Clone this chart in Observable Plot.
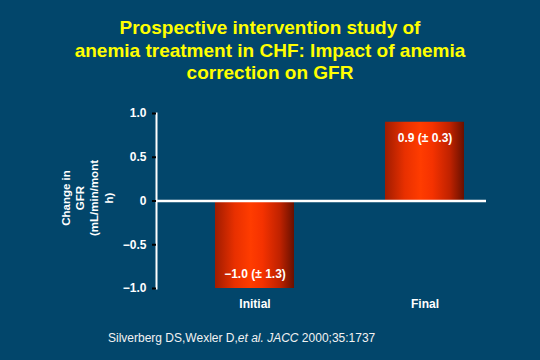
<!DOCTYPE html>
<html>
<head>
<meta charset="utf-8">
<script src="https://cdn.jsdelivr.net/npm/d3@7"></script>
<script src="https://cdn.jsdelivr.net/npm/@observablehq/plot@0.6"></script>
<style>
  html, body { margin: 0; padding: 0; }
  body { width: 540px; height: 360px; background: #02466b; overflow: hidden;
         font-family: "Liberation Sans", Arial, sans-serif; }
  #title { height: 90px; box-sizing: border-box; padding-top: 17px; text-align: center;
           color: #ffff00; font-weight: bold; font-size: 19px; line-height: 22.5px; }
  #chart svg { display: block; }
  #caption { padding-left: 108px; padding-top: 10px; color: #f2f2f2; font-size: 12px; line-height: 16px; }
</style>
</head>
<body>
<div id="title">Prospective intervention study of<br>anemia treatment in CHF: Impact of anemia<br>correction on GFR</div>
<div id="chart"></div>
<div id="caption">Silverberg DS,Wexler D,<i>et al.</i> <i>JACC</i> 2000;35:1737</div>
<script>
const categories = ["Initial", "Final"];
const changes = [-1.0, 0.9];
const barLabels = ["\u22121.0 (\u00b1 1.3)", "0.9 (\u00b1 0.3)"];
const yTicks = [-1, -0.5, 0, 0.5, 1];
const yLabel = "Change in\nGFR\n(mL/min/mont\nh)";

const data = categories.map((c, i) => ({cat: c, value: changes[i], label: barLabels[i]}));
const fmt = d => d === 0 ? "0" : d3.format(".1f")(d);

const plot = Plot.plot({
  width: 540,
  height: 230,
  marginTop: 23,
  marginBottom: 32,
  marginLeft: 156,
  marginRight: 54,
  style: {background: "transparent", fontFamily: "Liberation Sans, Arial, sans-serif", color: "white"},
  x: {domain: categories, paddingInner: 0.537, paddingOuter: 0.236, align: 0.73},
  y: {domain: [-1, 1]},
  marks: [
    Plot.barY(data, {x: "cat", y: "value", fill: "url(#barGrad)"}),
    Plot.ruleY([0], {stroke: "white", strokeWidth: 2.5}),
    Plot.frame({anchor: "left", stroke: "white", strokeWidth: 2}),
    Plot.axisY({ticks: yTicks, tickFormat: fmt, tickSize: 4, tickPadding: 6, stroke: "black", strokeWidth: 2,
                fill: "white", fontSize: 12, fontWeight: "bold", label: null}),
    Plot.axisX({tickSize: 0, tickPadding: 11, fill: "white", fontSize: 12, fontWeight: "bold", label: null}),
    Plot.text(data.filter(d => d.value > 0), {x: "cat", y: "value", text: "label", dy: 16,
                fill: "white", fontSize: 12, fontWeight: "bold"}),
    Plot.text(data.filter(d => d.value < 0), {x: "cat", y: "value", text: "label", dy: -14,
                fill: "white", fontSize: 12, fontWeight: "bold"}),
    Plot.text([yLabel], {frameAnchor: "left", dx: -70, dy: -3, rotate: -90, text: d => d, lineHeight: 1.25,
                textAnchor: "middle", lineAnchor: "middle",
                fill: "white", fontSize: 11.5, fontWeight: "bold"})
  ]
});

const svg = d3.select(plot);
const grad = svg.insert("defs", ":first-child").append("linearGradient")
  .attr("id", "barGrad").attr("x1", "0").attr("x2", "1").attr("y1", "0").attr("y2", "0");
[[0, "#a01c00"], [0.25, "#e83000"], [0.45, "#ff3c00"], [0.6, "#f53200"], [0.82, "#c02200"], [1, "#681000"]]
  .forEach(([o, c]) => grad.append("stop").attr("offset", o).attr("stop-color", c));

document.getElementById("chart").appendChild(plot);
</script>
</body>
</html>
